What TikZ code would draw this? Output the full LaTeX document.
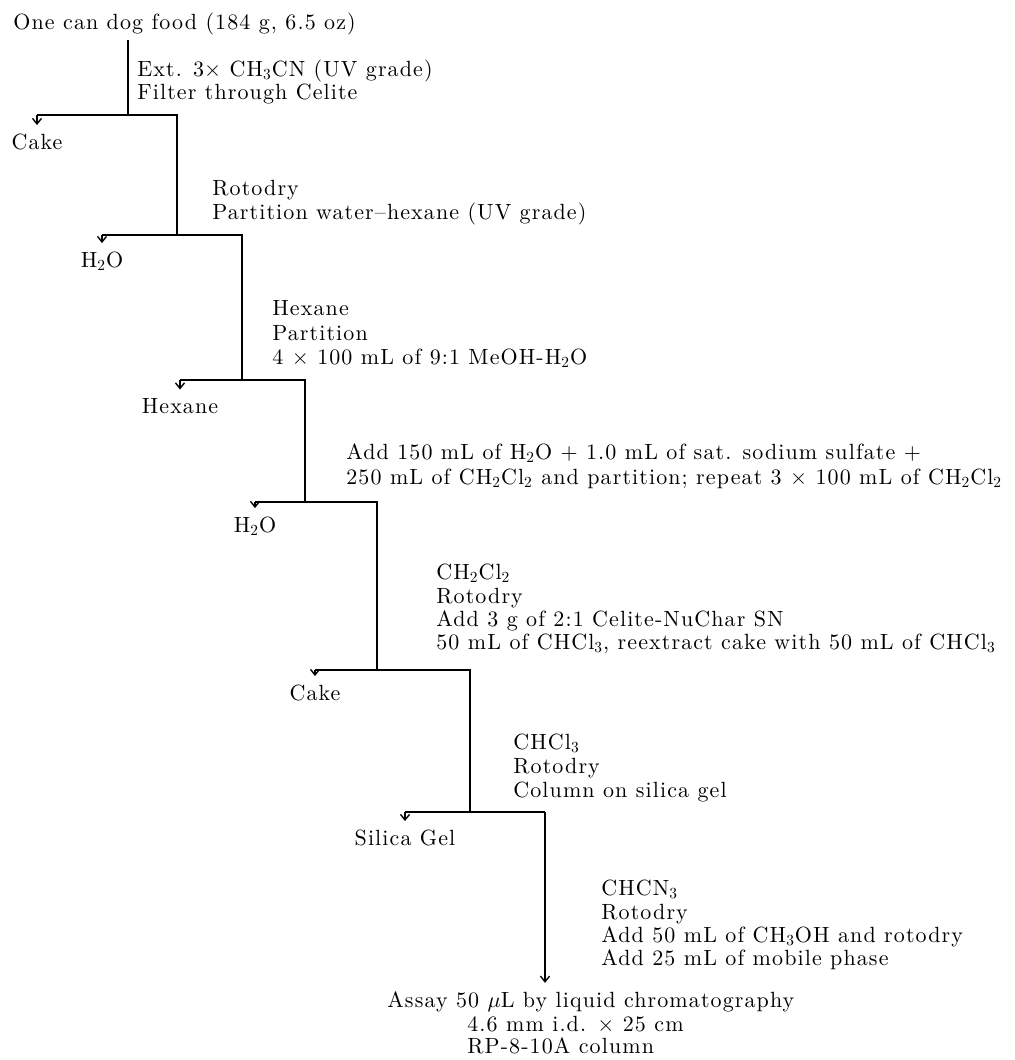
\documentclass[tikz,border=0pt]{standalone}
\usepackage{fontspec}
\setmainfont{lmroman10-regular.otf}[LetterSpace=5]
\usetikzlibrary{arrows.meta}
\newcommand{\sub}[1]{\textsubscript{#1}}
\begin{document}
\begin{tikzpicture}[x=0.5pt,y=-0.5pt,
  every node/.style={inner sep=0pt, font=\fontsize{11}{13}\selectfont},
  lbl/.style={anchor=base west},
  waste/.style={anchor=base},
  flow/.style={line width=0.7pt},
  tip/.style={line width=0.7pt, -{Straight Barb[length=2.8pt,width=4.5pt]}, shorten >=4pt}]
\useasboundingbox (0,0) rectangle (1015,1060);

% junction coordinates
\coordinate (a0) at (128,40);
\coordinate (j1) at (128,115); \coordinate (w1) at (37,115);  \coordinate (r1) at (177,115);
\coordinate (j2) at (177,235); \coordinate (w2) at (102,235); \coordinate (r2) at (242,235);
\coordinate (j3) at (242,380); \coordinate (w3) at (180,380); \coordinate (r3) at (305,380);
\coordinate (j4) at (305,502); \coordinate (w4) at (255,502); \coordinate (r4) at (377,502);
\coordinate (j5) at (377,670); \coordinate (w5) at (315,670); \coordinate (r5) at (470,670);
\coordinate (j6) at (470,812); \coordinate (w6) at (405,812); \coordinate (r6) at (545,812);

% title
\node[lbl] (title) at (13,29) {One can dog food (184 g, 6.5 oz)};

% step labels
\node[lbl] (l1a) at (137,76) {Ext. 3$\times$\ CH\sub{3}CN (UV grade)};
\node[lbl] (l1b) at (137,99) {Filter through Celite};

\node[lbl] (l2a) at (212,195) {Rotodry};
\node[lbl] (l2b) at (212,219) {Partition water--hexane (UV grade)};

\node[lbl] (l3a) at (272,315) {Hexane};
\node[lbl] (l3b) at (272,340) {Partition};
\node[lbl] (l3c) at (272,364) {4 $\times$ 100 mL of 9:1 MeOH-H\sub{2}O};

\node[lbl] (l4a) at (346,459) {Add 150 mL of H\sub{2}O + 1.0 mL of sat. sodium sulfate +};
\node[lbl] (l4b) at (346,484) {250 mL of CH\sub{2}Cl\sub{2} and partition; repeat 3 $\times$ 100 mL of CH\sub{2}Cl\sub{2}};

\node[lbl] (l5a) at (436,579) {CH\sub{2}Cl\sub{2}};
\node[lbl] (l5b) at (436,603) {Rotodry};
\node[lbl] (l5c) at (436,626) {Add 3 g of 2:1 Celite-NuChar SN};
\node[lbl] (l5d) at (436,649) {50 mL of CHCl\sub{3}, reextract cake with 50 mL of CHCl\sub{3}};

\node[lbl] (l6a) at (513,749) {CHCl\sub{3}};
\node[lbl] (l6b) at (513,773) {Rotodry};
\node[lbl] (l6c) at (513,797) {Column on silica gel};

\node[lbl] (l7a) at (601,895) {CHCN\sub{3}};
\node[lbl] (l7b) at (601,919) {Rotodry};
\node[lbl] (l7c) at (601,942) {Add 50 mL of CH\sub{3}OH and rotodry};
\node[lbl] (l7d) at (601,965) {Add 25 mL of mobile phase};

% discarded fractions
\node[waste] (cake1) at (37,149) {Cake};
\node[waste] (water2) at (102,267) {H\sub{2}O};
\node[waste] (hex3) at (180,413) {Hexane};
\node[waste] (water4) at (255,532) {H\sub{2}O};
\node[waste] (cake5) at (315,700) {Cake};
\node[waste] (silica6) at (405,845) {Silica Gel};

% final
\node[lbl] (assay) at (387,1007) {Assay 50 $\mu$L by liquid chromatography};
\node[lbl] (col1) at (467,1031) {4.6 mm i.d. $\times$ 25 cm};
\node[lbl] (col2) at (467,1053) {RP-8-10A column};

% connectors
\draw[flow] (a0) -- (j1);
\draw[flow] (w1) -- (r1) -- (j2);
\draw[flow] (w2) -- (r2) -- (j3);
\draw[flow] (w3) -- (r3) -- (j4);
\draw[flow] (w4) -- (r4) -- (j5);
\draw[flow] (w5) -- (r5) -- (j6);
\draw[flow] (w6) -- (r6);

\draw[tip] (w1) -- (cake1.north);
\draw[tip] (w2) -- (water2.north);
\draw[tip] (w3) -- (hex3.north);
\draw[tip] (w4) -- (water4.north);
\draw[tip] (w5) -- (cake5.north);
\draw[tip] (w6) -- (silica6.north);
\draw[tip] (r6) -- (r6 |- assay.north);
\end{tikzpicture}
\end{document}
